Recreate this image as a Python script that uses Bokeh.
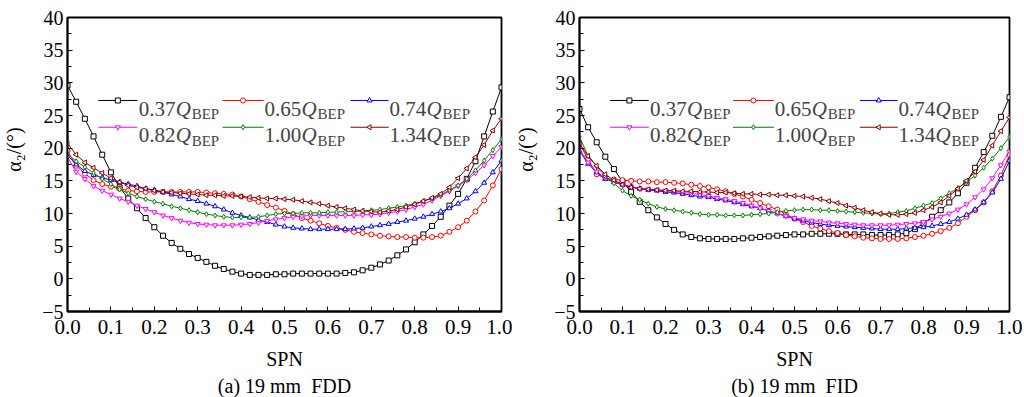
from bokeh.plotting import figure
from bokeh.layouts import row
from bokeh.models import FixedTicker, Label, Title
from bokeh.embed import file_html
from bokeh.resources import INLINE
from math import pi

# ---------------- data ----------------
SPN = [0.00, 0.02, 0.04, 0.06, 0.08, 0.10, 0.12, 0.14, 0.16, 0.18,
       0.20, 0.22, 0.24, 0.26, 0.28, 0.30, 0.32, 0.34, 0.36, 0.38,
       0.40, 0.42, 0.44, 0.46, 0.48, 0.50, 0.52, 0.54, 0.56, 0.58,
       0.60, 0.62, 0.64, 0.66, 0.68, 0.70, 0.72, 0.74, 0.76, 0.78,
       0.80, 0.82, 0.84, 0.86, 0.88, 0.90, 0.92, 0.94, 0.96, 0.98, 1.00]

FLOWS = ["0.37", "0.65", "0.74", "0.82", "1.00", "1.34"]

# (a) 19 mm FDD
A_037 = [29.6, 27.1, 24.5, 21.8, 19.0, 16.3, 14.0, 12.3, 10.8, 9.3,
         7.9, 6.6, 5.5, 4.6, 3.8, 3.2, 2.6, 2.0, 1.5, 1.1,
         0.8, 0.6, 0.6, 0.6, 0.7, 0.7, 0.8, 0.8, 0.8, 0.8,
         0.8, 0.8, 0.9, 1.0, 1.3, 1.7, 2.2, 2.8, 3.6, 4.5,
         5.6, 6.8, 8.1, 9.5, 11.2, 13.0, 15.3, 18.0, 21.8, 25.6, 29.3]
A_065 = [19.6, 17.3, 16.1, 15.1, 14.5, 14.1, 13.8, 13.5, 13.4, 13.3,
         13.3, 13.3, 13.3, 13.3, 13.3, 13.3, 13.2, 13.1, 13.0, 12.9,
         12.6, 12.2, 11.8, 11.3, 10.9, 10.4, 9.9, 9.3, 8.9, 8.5,
         8.1, 7.8, 7.5, 7.2, 7.0, 6.8, 6.6, 6.5, 6.4, 6.4,
         6.3, 6.3, 6.4, 6.6, 7.2, 7.9, 8.9, 10.3, 12.0, 14.3, 16.8]
A_074 = [18.9, 17.5, 16.5, 15.9, 15.5, 15.1, 14.8, 14.5, 14.2, 13.8,
         13.6, 13.3, 12.9, 12.6, 12.2, 11.9, 11.5, 11.1, 10.6, 10.1,
         9.7, 9.4, 9.0, 8.7, 8.3, 8.0, 7.8, 7.7, 7.6, 7.6,
         7.6, 7.6, 7.6, 7.7, 7.8, 8.0, 8.2, 8.4, 8.7, 8.9,
         9.2, 9.5, 9.9, 10.3, 10.8, 11.5, 12.3, 13.4, 14.7, 16.3, 18.1]
A_082 = [18.6, 16.4, 15.3, 14.2, 13.5, 12.9, 12.3, 11.8, 11.2, 10.7,
         10.2, 9.7, 9.3, 8.9, 8.6, 8.4, 8.3, 8.2, 8.2, 8.2,
         8.3, 8.4, 8.6, 8.9, 9.1, 9.3, 9.5, 9.6, 9.7, 9.7,
         9.7, 9.7, 9.7, 9.7, 9.8, 9.8, 9.9, 10.1, 10.3, 10.6,
         11.0, 11.4, 12.0, 12.7, 13.4, 14.2, 15.1, 16.2, 17.4, 18.8, 20.2]
A_100 = [19.1, 18.0, 17.1, 16.2, 15.3, 14.5, 13.7, 13.1, 12.6, 12.2,
         11.8, 11.5, 11.1, 10.8, 10.5, 10.2, 9.9, 9.7, 9.5, 9.4,
         9.4, 9.4, 9.5, 9.7, 9.9, 10.0, 10.0, 10.1, 10.1, 10.1,
         10.2, 10.2, 10.3, 10.3, 10.4, 10.5, 10.6, 10.8, 11.0, 11.2,
         11.5, 11.9, 12.3, 12.8, 13.6, 14.3, 15.3, 16.6, 18.1, 19.7, 21.4]
A_134 = [20.7, 19.0, 17.8, 17.0, 16.2, 15.4, 14.8, 14.3, 14.0, 13.8,
         13.5, 13.3, 13.2, 13.1, 13.0, 12.9, 12.8, 12.8, 12.7, 12.7,
         12.6, 12.5, 12.4, 12.3, 12.3, 12.2, 12.1, 11.9, 11.7, 11.5,
         11.2, 11.0, 10.8, 10.6, 10.4, 10.3, 10.2, 10.4, 10.6, 11.0,
         11.4, 11.9, 12.4, 13.0, 14.0, 15.4, 16.9, 18.6, 20.5, 22.7, 24.5]

# (b) 19 mm FID
B_037 = [26.0, 23.2, 20.9, 18.7, 16.8, 14.9, 13.3, 11.8, 10.5, 9.4,
         8.4, 7.5, 6.8, 6.4, 6.2, 6.1, 6.1, 6.1, 6.1, 6.2,
         6.3, 6.4, 6.5, 6.6, 6.7, 6.8, 6.8, 6.9, 6.9, 6.9,
         6.9, 6.8, 6.8, 6.8, 6.7, 6.7, 6.7, 6.8, 7.0, 7.6,
         8.5, 9.5, 10.5, 11.7, 13.1, 14.7, 17.0, 19.4, 21.9, 24.8, 27.8]
B_065 = [20.7, 18.3, 16.0, 15.4, 15.2, 15.1, 15.0, 14.9, 14.9, 14.8,
         14.8, 14.7, 14.6, 14.4, 14.2, 14.0, 13.7, 13.4, 13.0, 12.6,
         12.1, 11.6, 11.1, 10.6, 9.9, 9.2, 8.7, 8.1, 7.7, 7.3,
         7.0, 6.7, 6.5, 6.3, 6.2, 6.1, 6.1, 6.1, 6.2, 6.4,
         6.6, 6.9, 7.3, 7.8, 8.5, 9.5, 10.5, 11.7, 13.4, 15.8, 19.0]
B_074 = [19.6, 17.6, 16.3, 15.3, 14.8, 14.4, 14.1, 13.8, 13.6, 13.5,
         13.3, 13.2, 13.0, 12.8, 12.6, 12.5, 12.2, 12.0, 11.7, 11.4,
         11.1, 10.8, 10.4, 10.0, 9.6, 9.2, 8.9, 8.6, 8.4, 8.2,
         8.1, 8.0, 7.9, 7.8, 7.7, 7.6, 7.6, 7.6, 7.7, 7.8,
         7.9, 8.1, 8.4, 8.7, 9.2, 9.8, 10.6, 11.7, 13.2, 15.3, 18.1]
B_082 = [19.9, 17.8, 16.4, 15.5, 14.9, 14.4, 14.1, 13.8, 13.7, 13.6,
         13.5, 13.4, 13.2, 13.1, 12.9, 12.7, 12.4, 12.2, 11.9, 11.6,
         11.2, 10.8, 10.4, 10.0, 9.6, 9.3, 9.1, 8.9, 8.8, 8.6,
         8.5, 8.4, 8.3, 8.2, 8.2, 8.2, 8.2, 8.3, 8.4, 8.5,
         8.7, 9.1, 9.5, 10.0, 10.6, 11.4, 12.5, 13.7, 15.4, 17.4, 19.5]
B_100 = [21.7, 18.8, 17.2, 15.7, 14.6, 13.5, 12.7, 12.1, 11.5, 11.0,
         10.7, 10.5, 10.3, 10.1, 9.9, 9.8, 9.8, 9.7, 9.7, 9.7,
         9.8, 9.9, 10.0, 10.2, 10.4, 10.5, 10.6, 10.6, 10.5, 10.5,
         10.4, 10.3, 10.2, 10.1, 10.0, 9.9, 10.0, 10.2, 10.4, 10.8,
         11.2, 11.6, 12.3, 13.1, 13.9, 14.8, 15.8, 17.0, 18.4, 20.0, 21.7]
B_134 = [20.7, 18.8, 17.3, 16.0, 15.1, 14.4, 14.0, 13.8, 13.7, 13.6,
         13.5, 13.5, 13.4, 13.4, 13.3, 13.3, 13.2, 13.2, 13.1, 13.0,
         13.0, 12.9, 12.9, 12.8, 12.8, 12.7, 12.6, 12.4, 12.2, 11.9,
         11.6, 11.2, 10.9, 10.5, 10.2, 10.0, 9.8, 9.8, 9.9, 10.1,
         10.5, 11.0, 11.7, 12.7, 13.8, 15.0, 16.4, 18.2, 20.4, 22.6, 24.7]

X_TICKS = [0.0, 0.1, 0.2, 0.3, 0.4, 0.5, 0.6, 0.7, 0.8, 0.9, 1.0]
X_TICK_LABELS = ["0.0", "0.1", "0.2", "0.3", "0.4", "0.5", "0.6", "0.7", "0.8", "0.9", "1.0"]
Y_TICKS = [-5, 0, 5, 10, 15, 20, 25, 30, 35, 40]
Y_TICK_LABELS = ["\u22125", "0", "5", "10", "15", "20", "25", "30", "35", "40"]
CAPTIONS = ["(a) 19 mm\u00a0 FDD", "(b) 19 mm\u00a0 FID"]
Y_LABEL = "\u00a0\u00a0\u00a0\u00a0\u00a0\u00a0\u03b1\u2082/(\u00b0)"

# ---------------- styles ----------------
FONT = "Liberation Serif"
COLORS = ["#000000", "#ff0000", "#0000ff", "#ff00ff", "#008000", "#8b0000"]
MARKERS = ["square", "circle", "triangle", "inverted_triangle", "diamond", "triangle"]
ANGLES = [0, 0, 0, 0, 0, pi / 2]

# legend layout (columns in SPN units, rows in degrees)
LEG_LINE_X = [(0.071, 0.161), (0.357, 0.452), (0.652, 0.740)]
LEG_TEXT_X = [0.164, 0.454, 0.742]
LEG_LINE_Y = [27.3, 23.2]
LEG_TEXT_Y = [26.05, 21.95]


def make_panel(series, caption, width, border_left, border_right):
    p = figure(width=width, height=397, x_range=(0, 1), y_range=(-5, 40),
               output_backend="svg", toolbar_location=None, title=None,
               min_border_left=border_left, min_border_right=border_right,
               min_border_top=17, min_border_bottom=86)
    p.grid.visible = False
    p.outline_line_color = "black"
    p.outline_line_width = 1.8
    p.background_fill_color = "white"
    p.border_fill_color = "white"

    minor_x = [round(0.05 + 0.1 * i, 2) for i in range(10)]
    minor_y = [-2.5 + 5 * i for i in range(9)]
    p.xaxis.ticker = FixedTicker(ticks=X_TICKS, minor_ticks=minor_x)
    p.yaxis.ticker = FixedTicker(ticks=Y_TICKS, minor_ticks=minor_y)
    p.xaxis.major_label_overrides = dict(zip(X_TICKS, X_TICK_LABELS))
    p.yaxis.major_label_overrides = dict(zip(Y_TICKS, Y_TICK_LABELS))
    for ax in (p.xaxis, p.yaxis):
        ax.axis_line_color = "black"
        ax.axis_line_width = 1.8
        ax.major_tick_in = 5
        ax.major_tick_out = 0
        ax.minor_tick_in = 4
        ax.minor_tick_out = 0
        ax.major_tick_line_color = "black"
        ax.minor_tick_line_color = "black"
        ax.major_label_text_font = FONT
        ax.major_label_text_color = "black"
        ax.axis_label_text_font = FONT
        ax.axis_label_text_font_size = "20px"
        ax.axis_label_text_font_style = "normal"
        ax.axis_label_text_color = "black"
    p.xaxis.major_label_text_font_size = "21px"
    p.yaxis.major_label_text_font_size = "20px"
    p.xaxis.major_label_standoff = 8
    p.yaxis.major_label_standoff = 4
    p.xaxis.axis_label = "SPN"
    p.xaxis.axis_label_standoff = 11
    p.yaxis.axis_label = Y_LABEL
    p.yaxis.axis_label_standoff = 14

    # caption below the axis
    p.add_layout(Title(text=caption, align="center", text_font=FONT,
                       text_font_size="20px", text_font_style="normal",
                       text_color="black", standoff=0, offset=0), "below")

    # curves
    for ys, c, m, a in zip(series, COLORS, MARKERS, ANGLES):
        p.line(SPN, ys, line_color=c, line_width=1)
        p.scatter(SPN, ys, marker=m, angle=a, size=5, line_color=c,
                  fill_color="white", line_width=1)

    # legend (2 rows x 3 columns)
    for i, (flow, c, m, a) in enumerate(zip(FLOWS, COLORS, MARKERS, ANGLES)):
        r, col = divmod(i, 3)
        x0, x1 = LEG_LINE_X[col]
        yl = LEG_LINE_Y[r]
        p.line([x0, x1], [yl, yl], line_color=c, line_width=1)
        p.scatter([(x0 + x1) / 2], [yl], marker=m, angle=a, size=5,
                  line_color=c, fill_color="white", line_width=1)
        tx, ty = LEG_TEXT_X[col], LEG_TEXT_Y[r]
        p.add_layout(Label(x=tx, y=ty, text=flow, text_font=FONT,
                           text_font_size="21px", text_baseline="alphabetic"))
        p.add_layout(Label(x=tx, y=ty, x_offset=37, text="Q", text_font=FONT,
                           text_font_style="italic", text_font_size="21px",
                           text_baseline="alphabetic"))
        p.add_layout(Label(x=tx, y=ty - 0.8, x_offset=53, text="BEP", text_font=FONT,
                           text_font_size="15px", text_baseline="alphabetic"))
    return p


pa = make_panel([A_037, A_065, A_074, A_082, A_100, A_134], CAPTIONS[0], 512, 67, 11)
pb = make_panel([B_037, B_065, B_074, B_082, B_100, B_134], CAPTIONS[1], 510, 63, 13)

layout = row(pa, pb)
open("out.html", "w").write(file_html(layout, INLINE))
